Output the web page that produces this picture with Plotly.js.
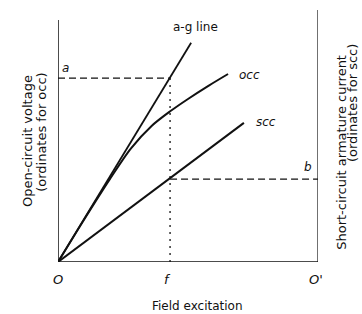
<!DOCTYPE html>
<html>
<head>
<meta charset="utf-8">
<script src="https://cdn.plot.ly/plotly-3.0.1.min.js"></script>
<style>html,body{margin:0;padding:0;background:#fff}#chart{width:362px;height:314px}</style>
</head>
<body>
<div id="chart"></div>
<script>
// Air-gap line (a-g line)
const agX = [0, 0.512];
const agY = [0, 0.87];
// Open-circuit characteristic (occ)
const occX = [0, 0.1, 0.2, 0.28, 0.36, 0.43, 0.5, 0.58, 0.654];
const occY = [0, 0.168, 0.330, 0.450, 0.540, 0.597, 0.647, 0.700, 0.746];
// Short-circuit characteristic (scc)
const sccX = [0, 0.715];
const sccY = [0, 0.552];
// Construction points
const fieldF = 0.431;   // f
const voltA = 0.73;     // a
const currB = 0.329;    // b
const leftAxisTop = 0.96;
const rightAxisTop = 1.0;

const black = '#111';
const traces = [
  {x: [0, 0], y: [0, leftAxisTop], mode: 'lines', line: {color: black, width: 1.5}},
  {x: [0, 1], y: [0, 0], mode: 'lines', line: {color: black, width: 1.5}},
  {x: [1, 1], y: [0, rightAxisTop], mode: 'lines', line: {color: black, width: 1.2}},
  {x: [0, fieldF], y: [voltA, voltA], mode: 'lines', line: {color: black, width: 1.3, dash: '7px,4px'}},
  {x: [fieldF, fieldF], y: [voltA, 0], mode: 'lines', line: {color: black, width: 1.3, dash: '2px,5px'}},
  {x: [fieldF, 1], y: [currB, currB], mode: 'lines', line: {color: black, width: 1.3, dash: '7px,4px'}},
  {x: agX, y: agY, mode: 'lines', line: {color: black, width: 1.8}},
  {x: occX, y: occY, mode: 'lines', line: {color: black, width: 2, shape: 'spline', smoothing: 0.8}},
  {x: sccX, y: sccY, mode: 'lines', line: {color: black, width: 2}}
];

const black13 = {family: 'DejaVu Sans', size: 13, color: black};
const fnt = {family: 'DejaVu Sans', size: 12, color: black};
function ann(text, x, y, extra) {
  return Object.assign({text: text, x: x, y: y, xref: 'paper', yref: 'paper', showarrow: false,
    xanchor: 'center', yanchor: 'middle', font: fnt}, extra || {});
}
const annotations = [
  ann('a-g line', 0.527, 0.933),
  ann('<i>occ</i>', 0.735, 0.742),
  ann('<i>scc</i>', 0.80, 0.556),
  ann('<i>a</i>', 0.027, 0.77),
  ann('<i>b</i>', 0.963, 0.377),
  ann('<i>O</i>', 0.0, -0.071, {font: black13}),
  ann('<i>f</i>', 0.423, -0.071, {font: black13}),
  ann("<i>O'</i>", 0.992, -0.071, {font: black13}),
  ann('Field excitation', 0.538, -0.175, {font: fnt}),
  ann('Open-circuit voltage', -0.119, 0.480, {textangle: -90, font: black13}),
  ann('(ordinates for occ)', -0.062, 0.516, {textangle: -90, font: black13}),
  ann('Short-circuit armature current', 1.092, 0.437, {textangle: -90, font: black13}),
  ann('(ordinates for scc)', 1.135, 0.631, {textangle: -90, font: black13})
];

const ax = {range: [0, 1], showgrid: false, zeroline: false, showticklabels: false, showline: false, ticks: '', fixedrange: true};
const layout = {
  width: 362, height: 314,
  margin: {l: 58, r: 44, t: 10, b: 52},
  paper_bgcolor: '#fff', plot_bgcolor: '#fff',
  showlegend: false,
  xaxis: Object.assign({}, ax),
  yaxis: Object.assign({}, ax),
  annotations: annotations
};
Plotly.newPlot('chart', traces, layout, {displayModeBar: false, staticPlot: true});
</script>
</body>
</html>
